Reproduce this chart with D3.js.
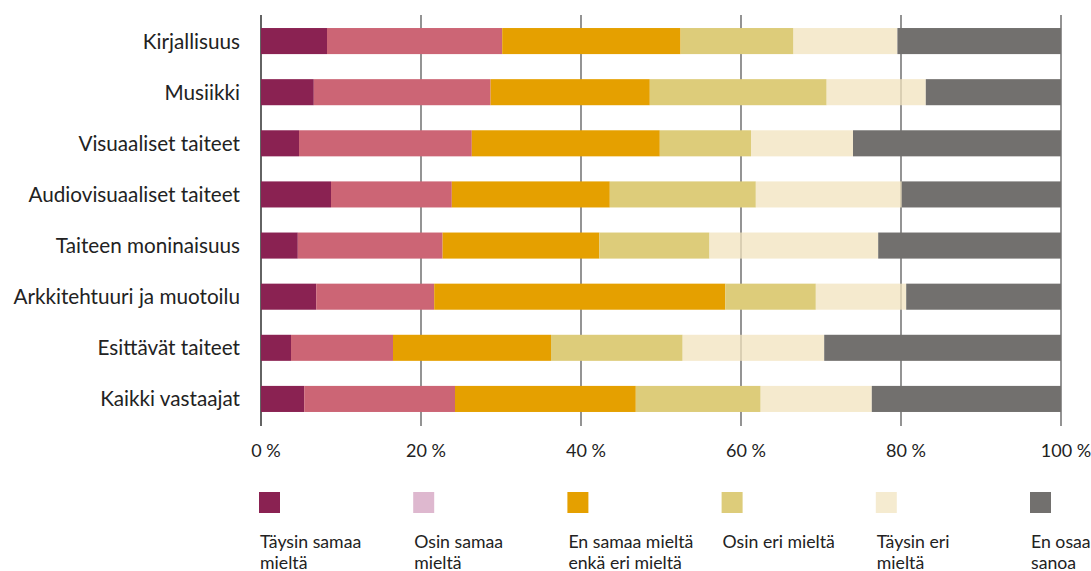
<!DOCTYPE html>
<html><head><meta charset="utf-8">
<script src="https://cdn.jsdelivr.net/npm/d3@7"></script>
<style>
html,body{margin:0;padding:0;background:#fff;}
svg{display:block;font-family:Lato,"Noto Sans",sans-serif;}
</style></head>
<body>
<svg id="chart" width="1091" height="571"></svg>
<script>
const categories = ["Kirjallisuus","Musiikki","Visuaaliset taiteet","Audiovisuaaliset taiteet","Taiteen moninaisuus","Arkkitehtuuri ja muotoilu","Esittävät taiteet","Kaikki vastaajat"];
const seriesNames = ["Täysin samaa mieltä","Osin samaa mieltä","En samaa mieltä enkä eri mieltä","Osin eri mieltä","Täysin eri mieltä","En osaa sanoa"];
const legendLines = [["Täysin samaa","mieltä"],["Osin samaa","mieltä"],["En samaa mieltä","enkä eri mieltä"],["Osin eri mieltä"],["Täysin eri","mieltä"],["En osaa","sanoa"]];
const taysinSamaa = [8.25, 6.6, 4.75, 8.75, 4.6, 6.9, 3.75, 5.4];
const osinSamaa   = [21.9, 22.1, 21.6, 15.1, 18.1, 14.75, 12.75, 18.85];
const enSamaaEnkaEri = [22.3, 19.9, 23.5, 19.75, 19.6, 36.4, 19.75, 22.6];
const osinEri     = [14.1, 22.1, 11.4, 18.25, 13.75, 11.3, 16.45, 15.6];
const taysinEri   = [13.0, 12.4, 12.75, 18.25, 21.1, 11.3, 17.7, 13.9];
const enOsaa      = [20.45, 16.9, 26.0, 19.9, 22.85, 19.35, 29.6, 23.65];
const tickValues = [0, 20, 40, 60, 80, 100];
const tickLabels = ["0 %","20 %","40 %","60 %","80 %","100 %"];

const barColors = ["#8A2252","#CC6575","#E5A000","#DDCC7A","#F2E3BE","#72706E"];
const legendColors = ["#8A2252","#DEB8CF","#E5A000","#DDCC7A","#F5EBD0","#72706E"];
const barOpacity = [1,1,1,1,0.75,1];

const allSeries = [taysinSamaa, osinSamaa, enSamaaEnkaEri, osinEri, taysinEri, enOsaa];
const rows = categories.map((c,i)=>{
  const r = {cat:c};
  seriesNames.forEach((s,j)=>{ r[s] = allSeries[j][i]; });
  return r;
});
const stacked = d3.stack().keys(seriesNames)(rows);

const svg = d3.select("#chart");
const x = d3.scaleLinear().domain([0,100]).range([261,1061]);
const y = d3.scaleBand().domain(categories).range([15.5,424.5]).paddingInner(0.49).paddingOuter(0.245);

// gridlines
svg.append("g").selectAll("line").data(tickValues).join("line")
  .attr("x1",d=>x(d)).attr("x2",d=>x(d)).attr("y1",15).attr("y2",426)
  .attr("stroke",d=>d===0?"#222":"#666").attr("stroke-width",1.4);

// bars
svg.append("g").selectAll("g").data(stacked).join("g")
  .attr("fill",(d,i)=>barColors[i]).attr("fill-opacity",(d,i)=>barOpacity[i])
  .selectAll("rect").data(d=>d).join("rect")
  .attr("x",d=>x(d[0])).attr("width",d=>x(d[1])-x(d[0]))
  .attr("y",d=>y(d.data.cat)).attr("height",y.bandwidth());

// category labels
svg.append("g").selectAll("text").data(categories).join("text")
  .attr("x",240).attr("y",d=>y(d)+y.bandwidth()/2).attr("dy","0.36em")
  .attr("text-anchor","end").attr("font-size",20.7).attr("fill","#222").text(d=>d);

// tick labels
svg.append("g").selectAll("text").data(tickValues).join("text")
  .attr("x",d=>x(d)+5).attr("y",457).attr("text-anchor","middle")
  .attr("font-size",18).attr("fill","#222").text((d,i)=>tickLabels[i]);

// legend
const lg = svg.append("g").selectAll("g").data(seriesNames).join("g")
  .attr("transform",(d,i)=>`translate(${259+i*154.2},492)`);
lg.append("rect").attr("width",21).attr("height",21).attr("fill",(d,i)=>legendColors[i]);
lg.append("text").attr("x",1).attr("font-size",17.7).attr("fill","#222")
  .selectAll("tspan").data((d,i)=>legendLines[i]).join("tspan")
  .attr("x",1).attr("y",(d,k)=>55.5+k*21).text(d=>d);
</script>
</body></html>
